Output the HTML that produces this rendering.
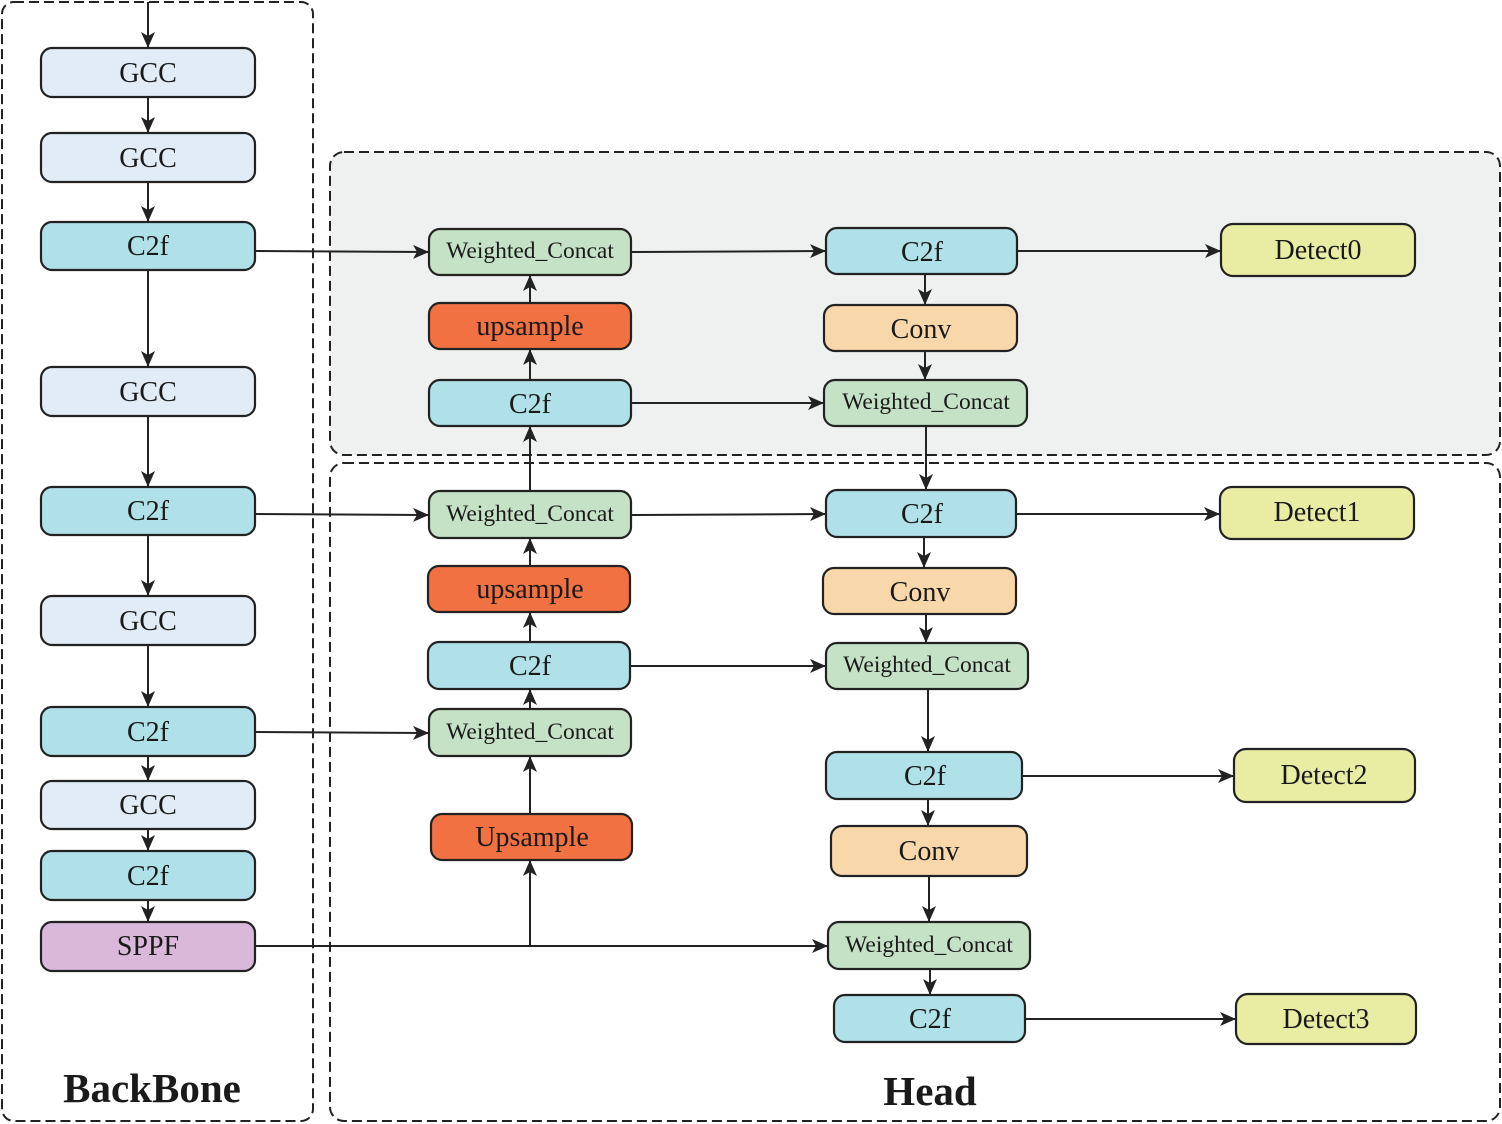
<!DOCTYPE html>
<html><head><meta charset="utf-8"><style>
html,body{margin:0;padding:0;background:#fff;}
svg{display:block;}
text{font-family:"Liberation Serif",serif;fill:#1a1a1a;text-anchor:middle;}
.b{stroke:#222;stroke-width:2.2;}
.l{stroke:#222;stroke-width:2;fill:none;}
.gcc{fill:#e1ecf7}.c2f{fill:#b0e0e8}.sppf{fill:#dab8da}.wc{fill:#c5e2c7}.up{fill:#f27142}.conv{fill:#f8d8ab}.det{fill:#e9eda4}
.t{font-size:28px}.tw{font-size:23.5px}
</style></head><body>
<svg width="1502" height="1124" viewBox="0 0 1502 1124" xmlns="http://www.w3.org/2000/svg">
<defs><marker id="a" markerUnits="userSpaceOnUse" markerWidth="16" markerHeight="14" refX="15" refY="7" orient="auto"><path d="M0,0 L16,7 L0,14 L4,7 Z" fill="#222"/></marker></defs>
<rect x="2" y="2" width="311" height="1119" rx="12" fill="none" stroke="#222" stroke-width="2" stroke-dasharray="10,5"/>
<rect x="330" y="152" width="1170" height="303" rx="14" fill="#eff0f0" stroke="#222" stroke-width="2" stroke-dasharray="10,5"/>
<rect x="330" y="463" width="1170" height="658" rx="14" fill="none" stroke="#222" stroke-width="2" stroke-dasharray="10,5"/>

<g class="l" marker-end="url(#a)">
<line x1="148" y1="2" x2="148" y2="47"/>
<line x1="148" y1="97" x2="148" y2="132"/>
<line x1="148" y1="182" x2="148" y2="221"/>
<line x1="148" y1="270" x2="148" y2="366"/>
<line x1="148" y1="416" x2="148" y2="486"/>
<line x1="148" y1="535" x2="148" y2="595"/>
<line x1="148" y1="645" x2="148" y2="706"/>
<line x1="148" y1="756" x2="148" y2="780"/>
<line x1="148" y1="829" x2="148" y2="850"/>
<line x1="148" y1="900" x2="148" y2="921"/>
<line x1="255" y1="251" x2="428" y2="252"/>
<line x1="255" y1="514" x2="428" y2="515"/>
<line x1="255" y1="732" x2="428" y2="733"/>
<line x1="530" y1="303" x2="530" y2="276"/>
<line x1="530" y1="380" x2="530" y2="350"/>
<line x1="530" y1="491" x2="530" y2="427"/>
<line x1="530" y1="566" x2="530" y2="539"/>
<line x1="530" y1="642" x2="530" y2="613"/>
<line x1="530" y1="709" x2="530" y2="690"/>
<line x1="530" y1="814" x2="530" y2="757"/>
<line x1="530" y1="946" x2="530" y2="861"/>
<line x1="255" y1="946" x2="827" y2="946"/>
<line x1="632" y1="252" x2="825" y2="251"/>
<line x1="631" y1="403" x2="823" y2="403"/>
<line x1="631" y1="515" x2="825" y2="514"/>
<line x1="630" y1="666" x2="825" y2="666"/>
<line x1="925" y1="274" x2="925" y2="304"/>
<line x1="925" y1="351" x2="925" y2="379"/>
<line x1="926" y1="426" x2="926" y2="489"/>
<line x1="924" y1="537" x2="924" y2="567"/>
<line x1="926" y1="614" x2="926" y2="642"/>
<line x1="928" y1="689" x2="928" y2="751"/>
<line x1="928" y1="799" x2="928" y2="825"/>
<line x1="929" y1="876" x2="929" y2="921"/>
<line x1="930" y1="969" x2="930" y2="994"/>
<line x1="1017" y1="251" x2="1220" y2="251"/>
<line x1="1016" y1="514" x2="1219" y2="514"/>
<line x1="1022" y1="776" x2="1233" y2="776"/>
<line x1="1025" y1="1019" x2="1235" y2="1019"/>
</g>

<rect class="b gcc" x="41" y="48" width="214" height="49" rx="11"/><text class="t" x="148" y="82">GCC</text>
<rect class="b gcc" x="41" y="133" width="214" height="49" rx="11"/><text class="t" x="148" y="167">GCC</text>
<rect class="b c2f" x="41" y="222" width="214" height="48" rx="11"/><text class="t" x="148" y="255">C2f</text>
<rect class="b gcc" x="41" y="367" width="214" height="49" rx="11"/><text class="t" x="148" y="401">GCC</text>
<rect class="b c2f" x="41" y="487" width="214" height="48" rx="11"/><text class="t" x="148" y="520">C2f</text>
<rect class="b gcc" x="41" y="596" width="214" height="49" rx="11"/><text class="t" x="148" y="630">GCC</text>
<rect class="b c2f" x="41" y="707" width="214" height="49" rx="11"/><text class="t" x="148" y="741">C2f</text>
<rect class="b gcc" x="41" y="781" width="214" height="48" rx="11"/><text class="t" x="148" y="814">GCC</text>
<rect class="b c2f" x="41" y="851" width="214" height="49" rx="11"/><text class="t" x="148" y="885">C2f</text>
<rect class="b sppf" x="41" y="922" width="214" height="49" rx="11"/><text class="t" x="148" y="955">SPPF</text>

<rect class="b wc" x="429" y="229" width="202" height="46" rx="11"/><text class="tw" x="530" y="258">Weighted_Concat</text>
<rect class="b up" x="429" y="303" width="202" height="46" rx="11"/><text class="t" x="530" y="335">upsample</text>
<rect class="b c2f" x="429" y="380" width="202" height="46" rx="11"/><text class="t" x="530" y="413">C2f</text>
<rect class="b wc" x="429" y="491" width="202" height="47" rx="11"/><text class="tw" x="530" y="521">Weighted_Concat</text>
<rect class="b up" x="428" y="566" width="202" height="46" rx="11"/><text class="t" x="530" y="598">upsample</text>
<rect class="b c2f" x="428" y="642" width="202" height="47" rx="11"/><text class="t" x="530" y="675">C2f</text>
<rect class="b wc" x="429" y="709" width="202" height="47" rx="11"/><text class="tw" x="530" y="739">Weighted_Concat</text>
<rect class="b up" x="431" y="814" width="201" height="46" rx="11"/><text class="t" x="532" y="846">Upsample</text>

<rect class="b c2f" x="826" y="228" width="191" height="46" rx="11"/><text class="t" x="922" y="261">C2f</text>
<rect class="b conv" x="824" y="305" width="193" height="46" rx="11"/><text class="t" x="921" y="338">Conv</text>
<rect class="b wc" x="824" y="380" width="203" height="46" rx="11"/><text class="tw" x="926" y="409">Weighted_Concat</text>
<rect class="b c2f" x="826" y="490" width="190" height="47" rx="11"/><text class="t" x="922" y="523">C2f</text>
<rect class="b conv" x="823" y="568" width="193" height="46" rx="11"/><text class="t" x="920" y="601">Conv</text>
<rect class="b wc" x="826" y="643" width="202" height="46" rx="11"/><text class="tw" x="927" y="672">Weighted_Concat</text>
<rect class="b c2f" x="826" y="752" width="196" height="47" rx="11"/><text class="t" x="925" y="785">C2f</text>
<rect class="b conv" x="831" y="826" width="196" height="50" rx="11"/><text class="t" x="929" y="860">Conv</text>
<rect class="b wc" x="828" y="922" width="202" height="47" rx="11"/><text class="tw" x="929" y="952">Weighted_Concat</text>
<rect class="b c2f" x="834" y="995" width="191" height="47" rx="11"/><text class="t" x="930" y="1028">C2f</text>

<rect class="b det" x="1221" y="224" width="194" height="52" rx="12"/><text class="t" x="1318" y="259">Detect0</text>
<rect class="b det" x="1220" y="487" width="194" height="52" rx="12"/><text class="t" x="1317" y="521">Detect1</text>
<rect class="b det" x="1234" y="749" width="181" height="53" rx="12"/><text class="t" x="1324" y="784">Detect2</text>
<rect class="b det" x="1236" y="994" width="180" height="50" rx="12"/><text class="t" x="1326" y="1028">Detect3</text>

<text x="152" y="1102" style="font-size:41px;font-weight:bold">BackBone</text>
<text x="930" y="1105" style="font-size:41px;font-weight:bold">Head</text>
</svg>
</body></html>
